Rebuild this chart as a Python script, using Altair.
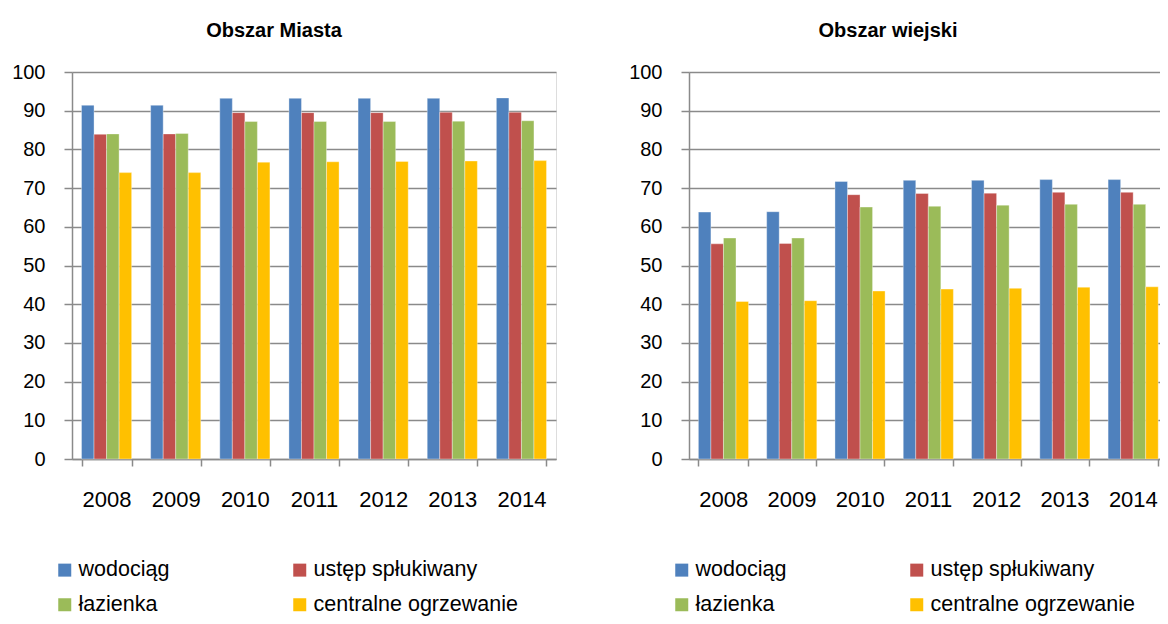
import altair as alt
import pandas as pd

years = ["2008", "2009", "2010", "2011", "2012", "2013", "2014"]
series = ["wodociąg", "ustęp spłukiwany", "łazienka", "centralne ogrzewanie"]
colors = ["#4F81BD", "#C0504D", "#9BBB59", "#FFC000"]

miasto_wodociag = [91.4, 91.4, 93.2, 93.2, 93.2, 93.2, 93.3]
miasto_ustep = [83.9, 84.0, 89.5, 89.5, 89.5, 89.6, 89.6]
miasto_lazienka = [84.0, 84.1, 87.2, 87.2, 87.2, 87.3, 87.4]
miasto_co = [74.0, 74.0, 76.7, 76.8, 76.9, 77.0, 77.1]

wies_wodociag = [63.8, 63.9, 71.7, 72.0, 72.0, 72.2, 72.2]
wies_ustep = [55.6, 55.7, 68.3, 68.6, 68.7, 68.9, 68.9]
wies_lazienka = [57.1, 57.1, 65.1, 65.3, 65.6, 65.8, 65.8]
wies_co = [40.7, 40.9, 43.4, 43.9, 44.1, 44.4, 44.5]

AXIS_FONT = "Liberation Sans, Arial"
TEXT_FONT = "Liberation Sans, Arial"
GRID = "#8a8a8a"


def build_frame(cols):
    rows = []
    for s, vals in zip(series, cols):
        for y, v in zip(years, vals):
            rows.append({"rok": y, "seria": s, "wartosc": v})
    return pd.DataFrame(rows)


def panel(title, cols, width):
    df = build_frame(cols)
    return alt.Chart(df).mark_bar(
        stroke="white", strokeOpacity=0.35, strokeWidth=1
    ).encode(
        x=alt.X(
            "rok:N",
            sort=years,
            scale=alt.Scale(paddingInner=0.275, paddingOuter=0.1375),
            axis=alt.Axis(
                title=None, labelAngle=0, tickBand="extent", tickSize=7,
                tickColor=GRID, tickWidth=1.5, domainColor=GRID, domainWidth=1.5,
                labelFont=AXIS_FONT, labelFontSize=22, labelColor="#000000",
                labelPadding=23, grid=False,
            ),
        ),
        xOffset=alt.XOffset("seria:N", sort=series,
                            scale=alt.Scale(paddingInner=0, paddingOuter=0)),
        y=alt.Y(
            "wartosc:Q",
            scale=alt.Scale(domain=[0, 100], nice=False),
            axis=alt.Axis(
                title=None, values=list(range(0, 101, 10)), tickSize=8,
                tickColor=GRID, tickWidth=1.5, domainColor=GRID, domainWidth=1.5,
                gridColor=GRID, gridWidth=1.5, grid=True,
                labelFont=AXIS_FONT, labelFontSize=20, labelColor="#000000",
                labelPadding=19,
            ),
        ),
        color=alt.Color(
            "seria:N",
            sort=series,
            scale=alt.Scale(domain=series, range=colors),
            legend=alt.Legend(
                title=None, orient="none", legendX=-18, legendY=487,
                direction="horizontal", columns=2, columnPadding=119,
                rowPadding=12, symbolType="square", symbolSize=169,
                symbolStrokeWidth=0, labelFont=TEXT_FONT, labelFontSize=21.5,
                labelColor="#000000", labelOffset=3, labelLimit=400,
            ),
        ),
    ).properties(
        width=width,
        height=387,
        title=alt.TitleParams(
            title, font=TEXT_FONT, fontSize=20, fontWeight="bold",
            color="#000000", dx=-40, offset=5, baseline="alphabetic",
        ),
    )


left = panel("Obszar Miasta", [miasto_wodociag, miasto_ustep, miasto_lazienka, miasto_co], 484)
right = panel("Obszar wiejski", [wies_wodociag, wies_ustep, wies_lazienka, wies_co], 478)

chart = alt.hconcat(left, right, spacing=71).resolve_scale(
    color="independent"
).resolve_legend(color="independent").properties(
    autosize=alt.AutoSizeParams(type="none"),
    padding={"left": 64, "top": 64, "right": 1088, "bottom": 538},
).configure_view(stroke=None).configure(background="white")

chart.save("out.html", embed_options={"renderer": "svg", "actions": False})
